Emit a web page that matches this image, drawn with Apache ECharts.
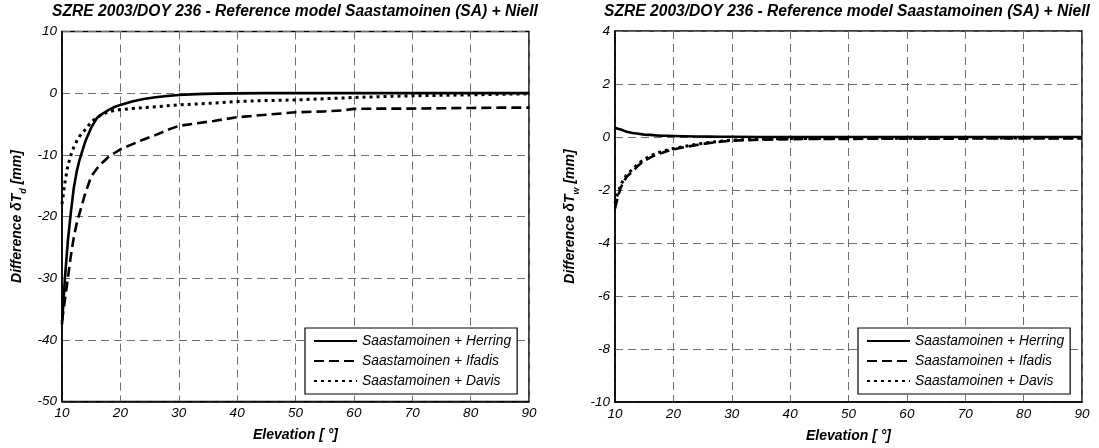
<!DOCTYPE html>
<html>
<head>
<meta charset="utf-8">
<script src="https://cdn.jsdelivr.net/npm/echarts@6/dist/echarts.min.js"></script>
<style>
html,body{margin:0;padding:0;background:#fff;}
#chart{width:1099px;height:448px;}
</style>
</head>
<body>
<div id="chart"></div>
<script>
// ---- data ----
var titleText = 'SZRE 2003/DOY 236 - Reference model Saastamoinen (SA) + Niell';
var seriesNames = ['Saastamoinen + Herring', 'Saastamoinen + Ifadis', 'Saastamoinen + Davis'];
var xTicks = [10, 20, 30, 40, 50, 60, 70, 80, 90];
var yTicksDry = [10, 0, -10, -20, -30, -40, -50];
var yTicksWet = [4, 2, 0, -2, -4, -6, -8, -10];

// left panel: hydrostatic (dry) differences [mm]
var elevDry = [10, 10.5, 11, 11.5, 12, 12.5, 13, 14, 15, 16, 17, 18, 19, 20, 22, 24, 26, 28, 30, 33, 36, 40, 45, 50, 55, 58, 60, 65, 70, 75, 80, 85, 90];
var herringDry = [-37.5, -30, -24, -19.5, -15.5, -12.8, -10.8, -7.8, -5.6, -4.0, -3.3, -2.7, -2.25, -1.9, -1.35, -0.95, -0.65, -0.45, -0.3, -0.15, -0.07, -0.03, 0, 0, 0, 0, 0, 0, 0, 0, 0, 0, 0];
var ifadisDry = [-37, -33.5, -30, -26.5, -23.5, -21.2, -19.5, -16.2, -13.5, -12.2, -11.2, -10.3, -9.7, -9.1, -8.3, -7.5, -6.8, -6.0, -5.3, -4.9, -4.5, -3.9, -3.5, -3.1, -2.95, -2.8, -2.55, -2.5, -2.5, -2.45, -2.4, -2.35, -2.35];
var davisDry = [-18, -14.5, -11.8, -10.1, -8.8, -7.8, -7.0, -5.9, -4.7, -3.9, -3.4, -3.0, -2.8, -2.65, -2.5, -2.35, -2.2, -2.05, -1.9, -1.75, -1.6, -1.35, -1.2, -1.1, -0.9, -0.78, -0.7, -0.55, -0.42, -0.35, -0.28, -0.18, -0.1];

// right panel: wet differences [mm]
var elevWet = [10, 10.5, 11, 11.5, 12, 13, 14, 15, 16, 17, 18, 19, 20, 22, 24, 26, 28, 30, 35, 40, 50, 60, 70, 80, 90];
var herringWet = [0.35, 0.31, 0.28, 0.24, 0.2, 0.15, 0.12, 0.09, 0.08, 0.06, 0.05, 0.045, 0.04, 0.03, 0.02, 0.015, 0.01, 0.01, 0, 0, 0, 0, 0, 0, 0];
var ifadisWet = [-2.7, -2.25, -1.9, -1.68, -1.5, -1.3, -1.07, -0.9, -0.78, -0.68, -0.6, -0.53, -0.47, -0.38, -0.3, -0.23, -0.18, -0.14, -0.1, -0.08, -0.07, -0.06, -0.06, -0.05, -0.05];
var davisWet = [-2.5, -2.1, -1.8, -1.6, -1.42, -1.22, -1.0, -0.85, -0.72, -0.62, -0.55, -0.49, -0.43, -0.35, -0.27, -0.21, -0.16, -0.12, -0.08, -0.06, -0.05, -0.05, -0.04, -0.04, -0.04];

// ---- chart ----
var FONT = '"Liberation Sans", Arial, Helvetica, sans-serif';
function pairs(xs, ys) { return xs.map(function (x, i) { return [x, ys[i]]; }); }

var lineStyles = [
  { color: '#000', width: 2.6, type: 'solid' },
  { color: '#000', width: 2.6, type: [10, 5] },
  { color: '#000', width: 3, type: [3, 4] }
];

function makeSeries(name, data, idx, styleIdx) {
  return {
    name: name, type: 'line', data: data,
    xAxisIndex: idx, yAxisIndex: idx,
    showSymbol: false, symbol: 'none', animation: false,
    lineStyle: lineStyles[styleIdx], itemStyle: { color: '#000' },
    emphasis: { disabled: true }
  };
}

function xAxis(idx) {
  return {
    gridIndex: idx, type: 'value', min: 10, max: 90, interval: 10,
    name: 'Elevation [ °]', nameLocation: 'middle', nameGap: 27,
    nameTextStyle: { fontFamily: FONT, fontSize: 14, fontWeight: 'bold', fontStyle: 'italic', color: '#000' },
    axisLine: { show: true, onZero: false, lineStyle: { color: '#000', width: 1.5 } },
    axisTick: { show: false },
    axisLabel: { fontFamily: FONT, fontSize: 13.5, fontStyle: 'italic', color: '#000', margin: 5,
      formatter: function (v) { return xTicks.indexOf(v) >= 0 ? String(v) : ''; } },
    splitLine: { show: true, lineStyle: { color: '#6e6e6e', width: 1, type: [8, 5] } }
  };
}

function yAxis(idx, min, max, interval, sub, ticks) {
  return {
    gridIndex: idx, type: 'value', min: min, max: max, interval: interval,
    name: '{n|Difference δT}{s|' + sub + '}{n| [mm]}', nameLocation: 'middle', nameGap: 34,
    nameTextStyle: {
      rich: {
        n: { fontFamily: FONT, fontSize: 14, fontWeight: 'bold', fontStyle: 'italic', color: '#000', lineHeight: 16 },
        s: { fontFamily: FONT, fontSize: 9, fontWeight: 'bold', fontStyle: 'italic', color: '#000', lineHeight: 22, verticalAlign: 'bottom' }
      }
    },
    axisLine: { show: true, onZero: false, lineStyle: { color: '#000', width: 1.5 } },
    axisTick: { show: false },
    axisLabel: { fontFamily: FONT, fontSize: 13.5, fontStyle: 'italic', color: '#000', margin: 5,
      formatter: function (v) { return ticks.indexOf(v) >= 0 ? String(v) : ''; } },
    splitLine: { show: true, lineStyle: { color: '#6e6e6e', width: 1, type: [8, 5] } }
  };
}

function legend(left) {
  return {
    data: seriesNames, orient: 'vertical', left: left, top: 328,
    itemWidth: 43, itemHeight: 14, itemGap: 6,
    padding: [6, 6, 6, 8],
    backgroundColor: '#fff', borderColor: '#000', borderWidth: 1.2, borderRadius: 0,
    itemStyle: { color: 'transparent', borderColor: 'transparent', borderWidth: 0, opacity: 0 },
    textStyle: { fontFamily: FONT, fontSize: 13.8, fontStyle: 'italic', color: '#000' },
    selectedMode: false
  };
}

var chart = echarts.init(document.getElementById('chart'), null, { renderer: 'canvas' });
chart.setOption({
  animation: false,
  backgroundColor: '#fff',
  title: [
    { text: titleText, left: 295, top: 4, textAlign: 'center', padding: 0,
      textStyle: { fontFamily: FONT, fontSize: 15.6, fontWeight: 'bold', fontStyle: 'italic', color: '#000' } },
    { text: titleText, left: 847, top: 4, textAlign: 'center', padding: 0,
      textStyle: { fontFamily: FONT, fontSize: 15.6, fontWeight: 'bold', fontStyle: 'italic', color: '#000' } }
  ],
  grid: [
    { left: 62, top: 31.5, width: 467, height: 370, show: true, borderColor: '#000', borderWidth: 1.5, backgroundColor: 'transparent' },
    { left: 615, top: 31, width: 467, height: 371, show: true, borderColor: '#000', borderWidth: 1.5, backgroundColor: 'transparent' }
  ],
  xAxis: [xAxis(0), xAxis(1)],
  yAxis: [yAxis(0, -50, 10, 10, 'd', yTicksDry), yAxis(1, -10, 4, 2, 'w', yTicksWet)],
  legend: [legend(305), legend(858)],
  series: [
    makeSeries(seriesNames[0], pairs(elevDry, herringDry), 0, 0),
    makeSeries(seriesNames[1], pairs(elevDry, ifadisDry), 0, 1),
    makeSeries(seriesNames[2], pairs(elevDry, davisDry), 0, 2),
    makeSeries(seriesNames[0], pairs(elevWet, herringWet), 1, 0),
    makeSeries(seriesNames[1], pairs(elevWet, ifadisWet), 1, 1),
    makeSeries(seriesNames[2], pairs(elevWet, davisWet), 1, 2)
  ]
});
</script>
</body>
</html>
